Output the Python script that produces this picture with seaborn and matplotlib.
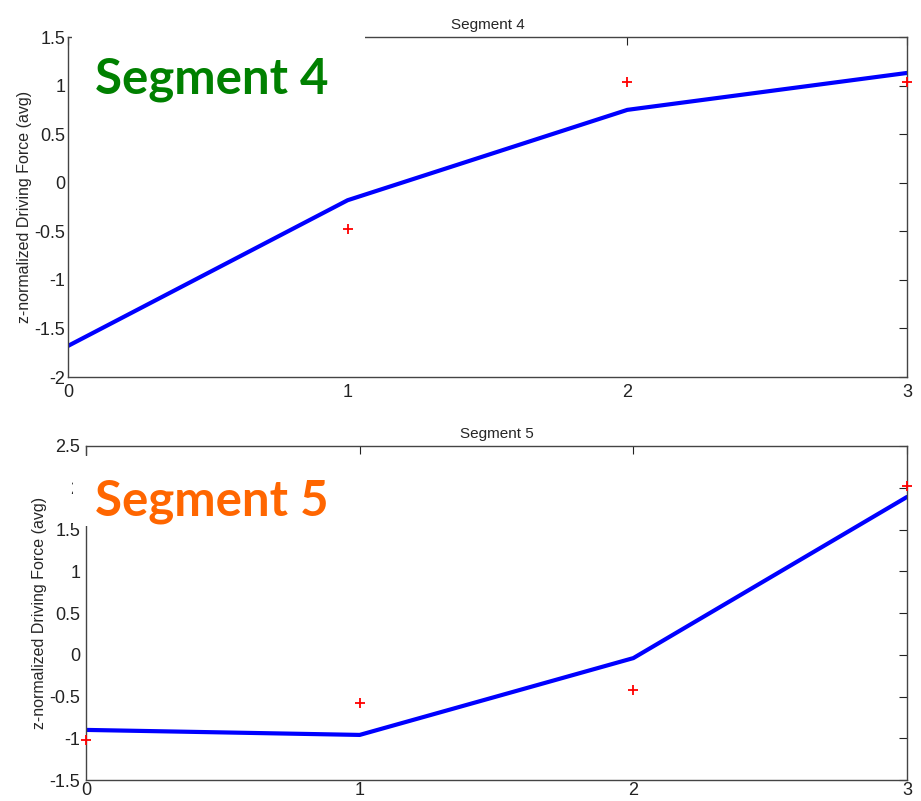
import matplotlib
matplotlib.use("Agg")
import matplotlib.pyplot as plt
from matplotlib.patches import Rectangle
import seaborn as sns
import pandas as pd

# Averaged z-normalized driving force per step, fitted line and observed points
steps = [0, 1, 2, 3]

seg4_fit = [-1.68, -0.18, 0.75, 1.13]
seg4_obs = [None, -0.48, 1.04, 1.04]

seg5_fit = [-0.90, -0.96, -0.04, 1.89]
seg5_obs = [-1.02, -0.58, -0.42, 2.02]

seg4_ticks = [-2, -1.5, -1, -0.5, 0, 0.5, 1, 1.5]
seg5_ticks = [-1.5, -1, -0.5, 0, 0.5, 1, 1.5, 2, 2.5]
tick_labels_4 = ["-2", "-1.5", "-1", "-0.5", "0", "0.5", "1", "1.5"]
tick_labels_5 = ["-1.5", "-1", "-0.5", "0", "0.5", "1", "1.5", "2", "2.5"]

titles = ["Segment 4", "Segment 5"]
ylabel = "z-normalized Driving Force (avg)"
badge_colors = ["#008000", "#FF6600"]

sns.set_theme(style="white")
plt.rcParams["font.family"] = ["Liberation Sans", "DejaVu Sans"]

fig = plt.figure(figsize=(9.21, 8.01), dpi=100)
ax_top = fig.add_axes([0.0738, 0.5293, 0.9110, 0.4245])
ax_bot = fig.add_axes([0.0934, 0.0262, 0.8914, 0.4170])

panels = [
    (ax_top, seg4_fit, seg4_obs, seg4_ticks, tick_labels_4, (-2, 1.5), 5, 2),
    (ax_bot, seg5_fit, seg5_obs, seg5_ticks, tick_labels_5, (-1.5, 2.5), 1.5, 4),
]

for i, (ax, fit, obs, yt, ytl, ylim, xpad, ypad) in enumerate(panels):
    df = pd.DataFrame({"step": steps, "fit": fit, "obs": obs}).astype(float)
    sns.lineplot(data=df, x="step", y="fit", ax=ax, color="#0000FF",
                 linewidth=3, clip_on=True)
    sns.scatterplot(data=df.dropna(), x="step", y="obs", ax=ax, marker="+",
                    color="#FF0000", s=45, linewidth=1.3, clip_on=False,
                    zorder=5)
    ax.set_xlim(0, 3)
    ax.set_ylim(*ylim)
    ax.set_xticks(steps)
    ax.set_xticklabels([str(s) for s in steps])
    ax.set_yticks(yt)
    ax.set_yticklabels(ytl)
    ax.set_xlabel("")
    ax.set_ylabel(ylabel, fontsize=11.5, labelpad=2)
    ax.set_title(titles[i], fontsize=11, pad=6)
    ax.tick_params(direction="in", length=6, width=0.8, labelsize=13,
                   top=True, right=True, colors="#222222")
    ax.tick_params(axis="x", pad=xpad)
    ax.tick_params(axis="y", pad=ypad)
    for sp in ax.spines.values():
        sp.set_visible(True)
        sp.set_color("#444444")
        sp.set_linewidth(1.0)

# white panels carrying the large segment badges
fig.patches.append(Rectangle((72 / 921, 1 - 110 / 801), (365 - 72) / 921, 110 / 801,
                             transform=fig.transFigure, facecolor="white",
                             edgecolor="none", zorder=10))
fig.patches.append(Rectangle((73 / 921, 1 - 526 / 801), (330 - 73) / 921, (526 - 456) / 801,
                             transform=fig.transFigure, facecolor="white",
                             edgecolor="none", zorder=10))

fig.text(95 / 921, 1 - 80 / 801, titles[0], color=badge_colors[0], fontsize=35.5,
         fontweight="bold", family=["Lato", "DejaVu Sans"], va="center",
         ha="left", zorder=11)
fig.text(95 / 921, 1 - 502 / 801, titles[1], color=badge_colors[1], fontsize=35.5,
         fontweight="bold", family=["Lato", "DejaVu Sans"], va="center",
         ha="left", zorder=11)

fig.savefig("out.png", dpi=100)
